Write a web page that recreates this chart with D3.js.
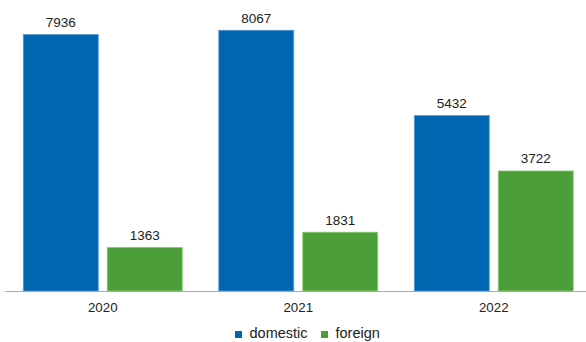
<!DOCTYPE html>
<html><head><meta charset="utf-8">
<script src="https://cdn.jsdelivr.net/npm/d3@7"></script>
<style>body{margin:0;background:#fff;}svg{display:block;font-family:"Liberation Sans",Arial,sans-serif;}</style>
</head><body>
<svg id="c" width="586" height="342"></svg>
<script>
const years = ["2020","2021","2022"];
const seriesNames = ["domestic","foreign"];
const domestic = [7936, 8067, 5432];
const foreign = [1363, 1831, 3722];
const colors = ["#0066b0","#4c9f38"];
const edgeColors = ["#5b9bd5","#8cc97a"];

const svg = d3.select("#c");
const baseY = 291;
const y = d3.scaleLinear().domain([0, 7936]).range([baseY, 34]);
const x0 = d3.scaleBand().domain(years).range([5, 591.5]).paddingInner(0.182).paddingOuter(0.091);
const x1 = d3.scaleBand().domain(seriesNames).range([0, x0.bandwidth()]).paddingInner(0.0952);
const data = years.map((yr,i)=>({year:yr, values:[domestic[i], foreign[i]]}));

const g = svg.append("g");
const groups = g.selectAll("g.grp").data(data).join("g").attr("transform", d=>`translate(${x0(d.year)},0)`);
groups.selectAll("rect").data(d=>d.values.map((v,j)=>({name:seriesNames[j], v, j}))).join("rect")
  .attr("x", d=>x1(d.name)+0.5).attr("width", x1.bandwidth()-1)
  .attr("y", d=>y(d.v)+0.5).attr("height", d=>baseY - y(d.v)-0.5)
  .attr("fill", d=>colors[d.j]).attr("stroke", d=>edgeColors[d.j]).attr("stroke-width",0.8);
groups.selectAll("text").data(d=>d.values.map((v,j)=>({name:seriesNames[j], v, j}))).join("text")
  .attr("x", d=>x1(d.name)+x1.bandwidth()/2).attr("y", d=>y(d.v)-7)
  .attr("text-anchor","middle").attr("font-size",13.5).attr("fill","#222").text(d=>d.v);

// axis
const ax = svg.append("g").attr("transform",`translate(0,${baseY})`).call(d3.axisBottom(x0).tickSize(0).tickPadding(12));
ax.select(".domain").attr("stroke","#aaa").attr("d","M5,0.5H586");
ax.selectAll("text").attr("font-size",13.3).attr("fill","#222").attr("font-family","Liberation Sans, Arial, sans-serif");

// legend
const leg = svg.append("g");
const legX = [235, 321];
seriesNames.forEach((n,i)=>{
  leg.append("rect").attr("x",legX[i]).attr("y",331).attr("width",7).attr("height",7).attr("fill",colors[i]);
  leg.append("text").attr("x",legX[i]+14.5).attr("y",338).attr("font-size",14.5).attr("fill","#222").text(n);
});
</script>
</body></html>
